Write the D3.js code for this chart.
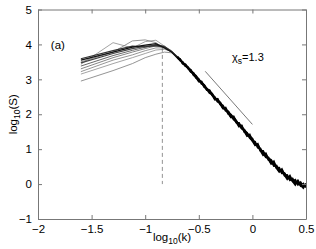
<!DOCTYPE html>
<html>
<head>
<meta charset="utf-8">
<script src="https://cdn.jsdelivr.net/npm/d3@7"></script>
<style>
  body { margin: 0; background: #fff; }
  svg { display: block; font-family: "Liberation Sans", Arial, sans-serif; }
</style>
</head>
<body>
<div class="svg-container"></div>
<script>
// low-k part of each spectrum, x = log10(k)
const headX = [-1.6, -1.3, -1.12, -1.0, -0.9, -0.82, -0.755];
const headY = [
  [2.95, 3.25, 3.45, 3.62, 3.72, 3.78, 3.76],
  [3.15, 3.45, 3.62, 3.74, 3.84, 3.86, 3.80],
  [3.22, 3.55, 3.70, 3.82, 3.90, 3.90, 3.80],
  [3.30, 3.62, 3.78, 3.88, 3.96, 3.92, 3.82],
  [3.43, 4.05, 3.90, 4.08, 4.12, 3.95, 3.82],
  [3.50, 3.78, 4.10, 4.13, 4.05, 3.88, 3.79],
  [3.38, 3.68, 3.83, 3.92, 4.00, 3.95, 3.80],
  [3.47, 3.74, 3.88, 3.95, 3.96, 3.92, 3.80],
  [3.59, 3.82, 3.95, 3.93, 3.98, 3.93, 3.80],
  [3.55, 3.78, 3.92, 3.98, 4.02, 3.90, 3.78]
];
const headColor = ["#888", "#999", "#8a8a8a", "#777", "#999", "#888", "#555", "#444", "#333", "#111"];

// high-k part, where all the spectra collapse
const tailX = [-0.7,-0.675,-0.65,-0.625,-0.6,-0.575,-0.55,-0.525,-0.5,-0.475,-0.45,-0.425,-0.4,-0.375,-0.35,-0.325,-0.3,-0.275,-0.25,-0.225,-0.2,-0.175,-0.15,-0.125,-0.1,-0.075,-0.05,-0.025,0,0.025,0.05,0.075,0.1,0.125,0.15,0.175,0.2,0.225,0.25,0.275,0.3,0.325,0.35,0.375,0.4,0.425,0.45,0.475,0.5];
const tailA = [3.64,3.54,3.50,3.39,3.35,3.22,3.16,3.10,2.96,2.92,2.78,2.74,2.67,2.54,2.49,2.36,2.34,2.21,2.15,2.01,1.99,1.89,1.76,1.75,1.60,1.56,1.40,1.37,1.30,1.14,1.10,0.95,0.95,0.79,0.76,0.60,0.61,0.46,0.47,0.31,0.31,0.17,0.20,0.08,0.12,-0.02,0.05,-0.08,-0.01];
const tailB = [3.61,3.58,3.45,3.42,3.31,3.27,3.12,3.08,3.01,2.87,2.83,2.71,2.65,2.59,2.44,2.43,2.28,2.25,2.10,2.07,1.92,1.91,1.81,1.68,1.66,1.49,1.46,1.32,1.24,1.21,1.04,1.02,0.87,0.86,0.69,0.67,0.52,0.53,0.39,0.40,0.24,0.26,0.11,0.16,0.02,0.07,-0.05,0.01,-0.10];
const tailC = [3.63,3.57,3.47,3.38,3.33,3.26,3.15,3.04,2.99,2.90,2.84,2.72,2.61,2.57,2.47,2.38,2.31,2.18,2.13,2.08,1.97,1.85,1.79,1.72,1.59,1.54,1.47,1.34,1.26,1.16,1.12,0.98,0.90,0.77,0.74,0.69,0.56,0.49,0.37,0.36,0.30,0.22,0.13,0.13,0.05,0.02,0.02,-0.05,-0.04];
const tailD = [3.65,3.56,3.46,3.43,3.32,3.21,3.19,3.06,2.94,2.94,2.81,2.69,2.69,2.55,2.42,2.44,2.30,2.17,2.19,2.03,1.91,1.94,1.78,1.65,1.68,1.51,1.38,1.42,1.24,1.11,1.15,0.96,0.83,0.88,0.71,0.58,0.65,0.46,0.35,0.43,0.26,0.14,0.24,0.08,-0.02,0.10,-0.03,-0.11,0.02];
const tails = [tailA, tailB, tailC, tailD];

// guide line for the slope, and the dashed marker
const slopeX = [-0.44, 0];
const slopeY = [3.23, 1.71];
const markX = -0.84;
const markY = [3.9, 0];

const xTicks = [-2, -1.5, -1, -0.5, 0, 0.5];
const yTicks = [-1, 0, 1, 2, 3, 4, 5];

const W = 316, H = 249;
const svg = d3.select("div.svg-container").append("svg")
  .attr("width", W).attr("height", H);

const x = d3.scaleLinear().domain([-2, 0.5]).range([38, 306]);
const y = d3.scaleLinear().domain([-1, 5]).range([219, 9.5]);

const line = d3.line().x(d => x(d[0])).y(d => y(d[1]));
const fmt = d => d3.format("")(d).replace("-", "\u2212");

// curves
headY.forEach((ys, i) => {
  const t = tails[i % 4];
  const pts = headX.map((v, j) => [v, ys[j]]).concat([[tailX[0], t[0]]]);
  svg.append("path").datum(pts)
    .attr("d", line)
    .attr("fill", "none")
    .attr("stroke", headColor[i])
    .attr("stroke-width", i > 6 ? 1.2 : 0.9);
});
tails.forEach(t => {
  svg.append("path").datum(tailX.map((v, j) => [v, t[j]]))
    .attr("d", line)
    .attr("fill", "none")
    .attr("stroke", "#000")
    .attr("stroke-width", 1.9);
});

// slope guide
svg.append("path").datum(slopeX.map((v, j) => [v, slopeY[j]]))
  .attr("d", line)
  .attr("fill", "none")
  .attr("stroke", "#555")
  .attr("stroke-width", 0.8);

// dashed marker
svg.append("line")
  .attr("x1", x(markX)).attr("x2", x(markX))
  .attr("y1", y(markY[0])).attr("y2", y(markY[1]))
  .attr("stroke", "#777")
  .attr("stroke-width", 0.8)
  .attr("stroke-dasharray", "4,3");

// axes, ticks pointing inward on all four sides
const axisColor = "#777";
const gx = svg.append("g").attr("transform", `translate(0,${y(-1)})`)
  .call(d3.axisBottom(x).tickValues(xTicks).tickSizeInner(-4).tickSizeOuter(0).tickPadding(6).tickFormat(fmt));
const gxt = svg.append("g").attr("transform", `translate(0,${y(5)})`)
  .call(d3.axisTop(x).tickValues(xTicks).tickSizeInner(-4).tickSizeOuter(0).tickFormat(""));
const gy = svg.append("g").attr("transform", `translate(${x(-2)},0)`)
  .call(d3.axisLeft(y).tickValues(yTicks).tickSizeInner(-4).tickSizeOuter(0).tickPadding(6).tickFormat(fmt));
const gyr = svg.append("g").attr("transform", `translate(${x(0.5)},0)`)
  .call(d3.axisRight(y).tickValues(yTicks).tickSizeInner(-4).tickSizeOuter(0).tickFormat(""));

[gx, gxt, gy, gyr].forEach(g => {
  g.select(".domain").attr("stroke", axisColor);
  g.selectAll(".tick line").attr("stroke", axisColor);
  g.selectAll(".tick text").attr("fill", "#000").attr("font-size", 11.5)
    .attr("font-family", "Liberation Sans, Arial, sans-serif");
});

// axis titles
const xl = svg.append("text").attr("x", 172).attr("y", 241)
  .attr("text-anchor", "middle").attr("font-size", 11.5);
xl.append("tspan").text("log");
xl.append("tspan").attr("dy", 3).attr("font-size", 8.5).text("10");
xl.append("tspan").attr("dy", -3).text("(k)");

const yl = svg.append("text")
  .attr("transform", `translate(17,${y(2)}) rotate(-90)`)
  .attr("text-anchor", "middle").attr("font-size", 11.5);
yl.append("tspan").text("log");
yl.append("tspan").attr("dy", 3).attr("font-size", 8.5).text("10");
yl.append("tspan").attr("dy", -3).text("(S)");

// annotations
svg.append("text").attr("x", x(-1.88)).attr("y", y(3.88))
  .attr("font-size", 11.5).text("(a)");

const chi = svg.append("text").attr("x", x(-0.19)).attr("y", y(3.52))
  .attr("font-size", 11);
chi.append("tspan").text("\u03c7");
chi.append("tspan").attr("dy", 3).attr("font-size", 8.5).text("s");
chi.append("tspan").attr("dy", -3).text("=1.3");
</script>
</body>
</html>
